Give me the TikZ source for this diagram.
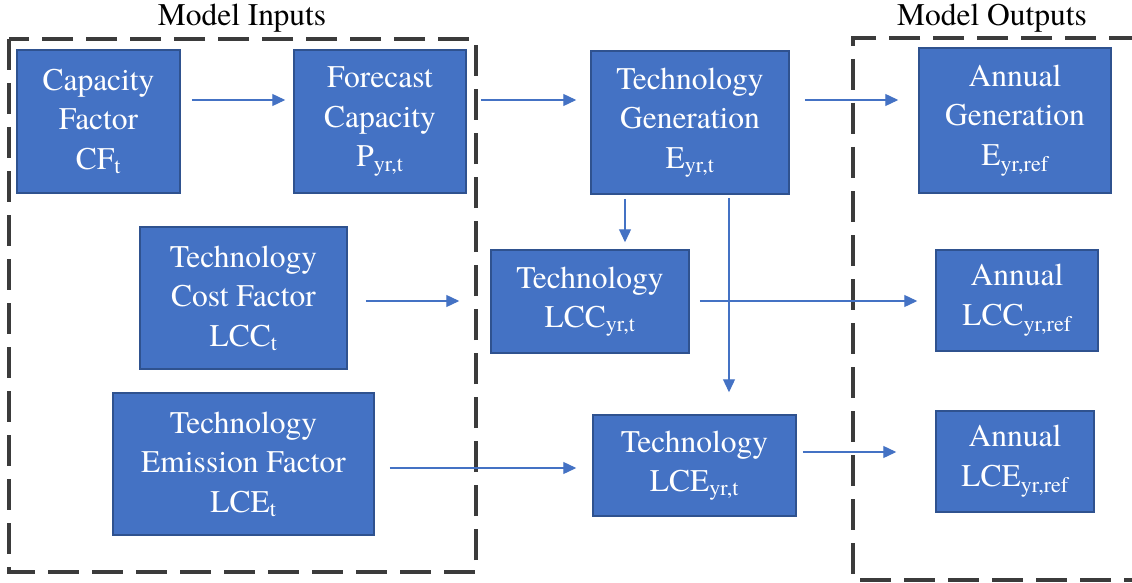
\documentclass[tikz,border=0pt]{standalone}
\usepackage{fontspec}
\setmainfont{texgyretermes}[Extension=.otf, UprightFont=*-regular, BoldFont=*-bold, ItalicFont=*-italic]
\usetikzlibrary{arrows.meta}
\definecolor{boxfill}{HTML}{4472C4}
\definecolor{boxline}{HTML}{2F528F}
\definecolor{dashgray}{HTML}{3B3B3B}
\begin{document}
\begin{tikzpicture}[x=1pt,y=-1pt,
  blk/.style={draw=boxline, line width=1.5pt, fill=boxfill, text=white, align=center,
    inner sep=0pt, font=\fontsize{31.5}{39.5}\selectfont},
  arr/.style={draw=boxfill, line width=1.3pt, -{Triangle[length=13pt,width=12pt]}},
  frame/.style={draw=dashgray, line width=4pt, dash pattern=on 31pt off 13pt},
  ttl/.style={font=\fontsize{31.5}{39.5}\selectfont, anchor=base, inner sep=0pt}]
\useasboundingbox (0,0) rectangle (1132,583);
\fill[white] (0,0) rectangle (1132,583);

% frames
\draw[frame] (9,39) rectangle (476,572);
\draw[frame] (1140,38) -- (853,38) -- (853,580) -- (1140,580);
\node[ttl] (tin) at (242,26) {Model Inputs};
\node[ttl] (tout) at (992,26) {Model Outputs};

% boxes
\node[blk, minimum width=163pt, minimum height=143pt] (cf) at (98.5,121.5) {Capacity\\Factor\\CF\textsubscript{t}};
\node[blk, minimum width=172pt, minimum height=143pt] (fc) at (380,121.5) {Forecast\\Capacity\\P\textsubscript{yr,t}};
\node[blk, minimum width=198pt, minimum height=143pt] (tg) at (690,122.5) {Technology\\Generation\\E\textsubscript{yr,t}};
\node[blk, minimum width=192pt, minimum height=145pt] (ag) at (1015,120.5) {Annual\\Generation\\E\textsubscript{yr,ref}};
\node[blk, minimum width=207pt, minimum height=142pt] (lccf) at (243.5,298) {Technology\\Cost Factor\\LCC\textsubscript{t}};
\node[blk, minimum width=198pt, minimum height=103pt] (tlcc) at (590,301.5) {Technology\\LCC\textsubscript{yr,t}};
\node[blk, minimum width=162pt, minimum height=101pt] (alcc) at (1017,300.5) {Annual\\LCC\textsubscript{yr,ref}};
\node[blk, minimum width=261pt, minimum height=142pt] (lcef) at (243.5,464) {Technology\\Emission Factor\\LCE\textsubscript{t}};
\node[blk, minimum width=203pt, minimum height=101pt] (tlce) at (694.5,465.5) {Technology\\LCE\textsubscript{yr,t}};
\node[blk, minimum width=158pt, minimum height=101pt] (alce) at (1015,461.5) {Annual\\LCE\textsubscript{yr,ref}};

% reference levels
\coordinate (ya) at (0,100);
\coordinate (yb) at (0,301);
\coordinate (yc) at (0,468);
\coordinate (yd) at (0,452);
\coordinate (xa) at (625,0);
\coordinate (xb) at (729,0);

% connectors
\draw[arr, shorten <=11pt, shorten >=8pt] (cf.east |- ya) -- (fc.west |- ya);
\draw[arr, shorten <=14pt, shorten >=14pt] (fc.east |- ya) -- (tg.west |- ya);
\draw[arr, shorten <=15pt, shorten >=20pt] (tg.east |- ya) -- (ag.west |- ya);
\draw[arr, shorten <=4pt, shorten >=7pt] (tg.south -| xa) -- (tlcc.north -| xa);
\draw[arr, shorten <=3pt, shorten >=22pt] (tg.south -| xb) -- (tlce.north -| xb);
\draw[arr, shorten <=18pt, shorten >=31pt] (lccf.east |- yb) -- (tlcc.west |- yb);
\draw[arr, shorten <=10pt, shorten >=18pt] (tlcc.east |- yb) -- (alcc.west |- yb);
\draw[arr, shorten <=15pt, shorten >=16pt] (lcef.east |- yc) -- (tlce.west |- yc);
\draw[arr, shorten <=6pt, shorten >=39pt] (tlce.east |- yd) -- (alce.west |- yd);
\end{tikzpicture}
\end{document}
